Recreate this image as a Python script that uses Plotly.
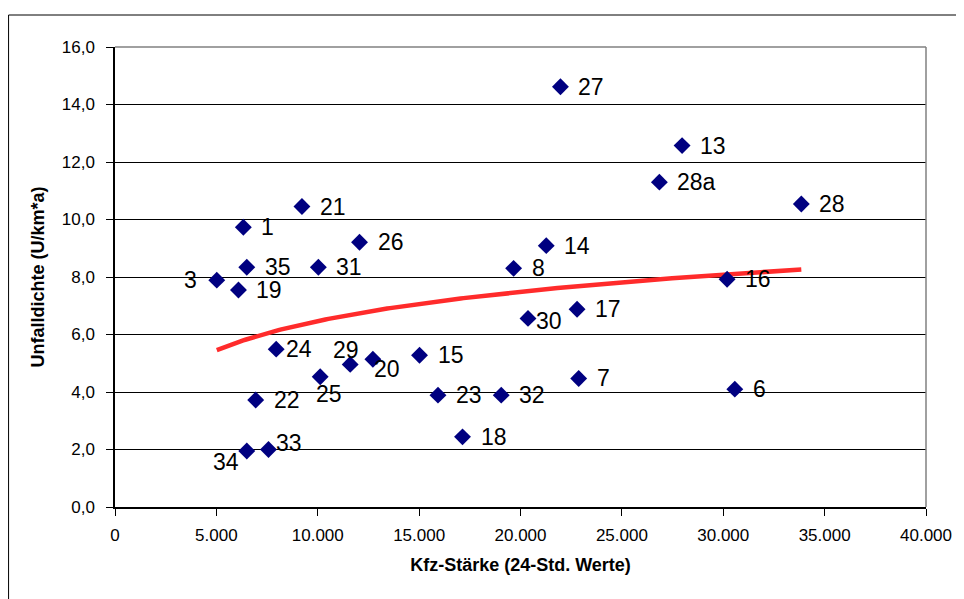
import numpy as np
import plotly.graph_objects as go

# ---- data ----
point_ids = ["1", "3", "6", "7", "8", "13", "14", "15", "16", "17", "18", "19", "20", "21", "22",
             "23", "24", "25", "26", "27", "28", "28a", "29", "30", "31", "32", "33", "34", "35"]
kfz_staerke = [6330, 5020, 30570, 22870, 19660, 27970, 21270, 15020, 30190, 22790, 17140, 6090, 12720, 9220, 6940,
               15930, 7950, 10120, 12060, 21970, 33850, 26850, 11600, 20370, 10030, 19050, 7570, 6500, 6500]
unfalldichte = [9.73, 7.89, 4.10, 4.47, 8.30, 12.57, 9.09, 5.28, 7.92, 6.88, 2.44, 7.55, 5.14, 10.45, 3.72,
                3.89, 5.49, 4.53, 9.21, 14.62, 10.54, 11.30, 4.96, 6.56, 8.34, 3.89, 2.00, 1.95, 8.34]

x_title = "Kfz-Stärke (24-Std. Werte)"
y_title = "Unfalldichte (U/km*a)"

# ---- label placement (anchor, dx px, dy px downwards) ----
label_place = {
    "24": ("left", 10, 0),
    "30": ("left", 8, 3),
    "33": ("left", 8, -7),
    "3": ("right", -20, 0),
    "34": ("right", -8, 11),
    "29": ("left", -17, -14),
    "20": ("left", 1, 10),
    "25": ("left", -4, 17),
}
default_place = ("left", 18, 0)

# page has an 8px body margin: figure origin sits at (8, 8)
OFF = 8
W, H = 964 - OFF, 599 - OFF
L, R, T, B = 115 - OFF, 926.5 - OFF, 46.5 - OFF, 506.7 - OFF

# logarithmic trendline (least squares on ln x), drawn over the data range
xa = np.array(kfz_staerke, dtype=float)
ya = np.array(unfalldichte, dtype=float)
a, b = np.polyfit(np.log(xa), ya, 1)
xt = np.linspace(xa.min(), xa.max(), 200)
yt = a * np.log(xt) + b

fig = go.Figure()
fig.add_trace(go.Scatter(x=xt, y=yt, mode="lines",
                         line=dict(color="#ff2b2b", width=4.5), hoverinfo="skip", showlegend=False))
fig.add_trace(go.Scatter(x=kfz_staerke, y=unfalldichte, mode="markers",
                         marker=dict(symbol="diamond", size=13, color="#000080", line=dict(width=0)),
                         text=point_ids, showlegend=False))

annotations = []
for pid, xv, yv in zip(point_ids, kfz_staerke, unfalldichte):
    anchor, dx, dy = label_place.get(pid, default_place)
    annotations.append(dict(x=xv, y=yv, xref="x", yref="y", text=pid, showarrow=False,
                            xanchor=anchor, yanchor="middle", xshift=dx, yshift=-dy,
                            borderpad=0, borderwidth=0,
                            font=dict(family="Liberation Sans, Arial", size=23, color="black")))

pw, ph = R - L, B - T
def px_x(p):
    return (p - L) / pw
def px_y(p):
    return (B - p) / ph

shapes = [
    # plot-area border (top, right) in gray
    dict(type="line", xref="paper", yref="paper", x0=0, x1=1, y0=1, y1=1,
         line=dict(color="#808080", width=1.5), layer="above"),
    dict(type="line", xref="paper", yref="paper", x0=1, x1=1, y0=0, y1=1,
         line=dict(color="#808080", width=1.5), layer="above"),
    # outer chart border (left and top visible)
    dict(type="line", xref="paper", yref="paper", x0=px_x(0.5), x1=px_x(0.5), y0=px_y(6.5), y1=px_y(H + 20),
         line=dict(color="black", width=1)),
    dict(type="line", xref="paper", yref="paper", x0=px_x(0.5), x1=px_x(W + 20), y0=px_y(6.5), y1=px_y(6.5),
         line=dict(color="black", width=1)),
]

tick_font = dict(family="Liberation Sans, Arial", size=17, color="black")
title_font = dict(family="Liberation Sans, Arial", size=18, color="black")

fig.update_layout(
    width=W, height=H,
    margin=dict(l=L, r=W - R, t=T, b=H - B, pad=0),
    paper_bgcolor="white", plot_bgcolor="white",
    separators=",.",
    annotations=annotations, shapes=shapes,
    showlegend=False,
    xaxis=dict(range=[0, 40000], dtick=5000, tickformat=",.0f",
               showgrid=False, zeroline=False,
               showline=True, linecolor="black", linewidth=1.5,
               ticks="outside", ticklen=7, tickcolor="black", tickwidth=1,
               tickfont=tick_font, ticklabelstandoff=5,
               title=dict(text="<b>" + x_title + "</b>", font=title_font, standoff=14)),
    yaxis=dict(range=[0, 16], dtick=2, tickformat=".1f",
               showgrid=True, gridcolor="black", gridwidth=1, zeroline=False,
               showline=True, linecolor="black", linewidth=1.5,
               ticks="outside", ticklen=7, tickcolor="black", tickwidth=1,
               tickfont=tick_font, ticklabelstandoff=8,
               title=dict(text="<b>" + y_title + "</b>", font=title_font, standoff=12)),
)

fig.write_html("out.html")
